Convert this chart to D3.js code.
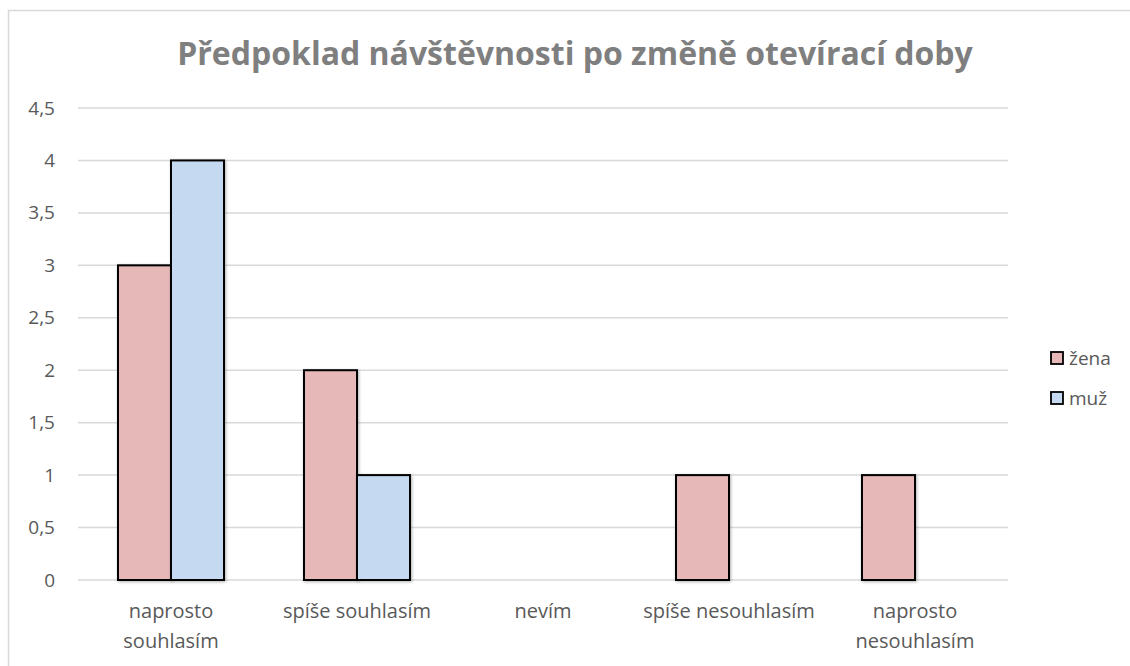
<!DOCTYPE html>
<html>
<head>
    <script src="https://cdnjs.cloudflare.com/ajax/libs/d3/7.8.5/d3.min.js"></script>
    <style>
        body { margin: 0; background: #fff; }
        .tick text { font-family: "Open Sans"; font-size: 19px; fill: #595959; }
        .grid line { stroke: #d9d9d9; stroke-width: 1.5; }
        .title { font-family: "Open Sans"; font-weight: bold; font-size: 32px; fill: #7f7f7f; }
        .legend text { font-family: "Open Sans"; font-size: 19px; fill: #595959; }
    </style>
</head>
<body>
    <svg width="1130" height="666"></svg>
    <script>
        // Data
        const categories = ["naprosto souhlasím", "spíše souhlasím", "nevím", "spíše nesouhlasím", "naprosto nesouhlasím"];
        const categoryLines = [["naprosto", "souhlasím"], ["spíše souhlasím"], ["nevím"], ["spíše nesouhlasím"], ["naprosto", "nesouhlasím"]];
        const seriesNames = ["žena", "muž"];
        const zena = [3, 2, 0, 1, 1];
        const muz = [4, 1, 0, 0, 0];
        const yTicks = [0, 0.5, 1, 1.5, 2, 2.5, 3, 3.5, 4, 4.5];
        const colors = {"žena": "#e6b8b7", "muž": "#c5d9f1"};

        const svg = d3.select("svg");

        // chart border
        svg.append("rect")
            .attr("x", 8.5).attr("y", 10.5)
            .attr("width", 1140).attr("height", 680)
            .attr("fill", "none")
            .attr("stroke", "#d9d9d9")
            .attr("stroke-width", 1.5);

        svg.append("text")
            .attr("class", "title")
            .attr("x", 575)
            .attr("y", 65)
            .attr("text-anchor", "middle")
            .text("Předpoklad návštěvnosti po změně otevírací doby");

        const plot = {left: 78, right: 1008, top: 108, bottom: 580};

        const x = d3.scaleBand()
            .domain(categories)
            .range([plot.left, plot.right])
            .paddingInner(0.43)
            .paddingOuter(0.215);

        const xs = d3.scaleBand()
            .domain(seriesNames)
            .range([0, x.bandwidth()]);

        const y = d3.scaleLinear()
            .domain([0, 4.5])
            .range([plot.bottom, plot.top]);

        // grid
        svg.append("g")
            .attr("class", "grid")
            .selectAll("line")
            .data(yTicks)
            .join("line")
            .attr("x1", plot.left)
            .attr("x2", plot.right)
            .attr("y1", d => y(d))
            .attr("y2", d => y(d));

        // y axis labels
        const yAxis = svg.append("g")
            .attr("transform", `translate(${plot.left},0)`)
            .call(d3.axisLeft(y).tickValues(yTicks).tickSize(0).tickPadding(23)
                .tickFormat(d => String(d).replace(".", ",")));
        yAxis.select(".domain").remove();

        // x axis labels
        const xAxis = svg.append("g")
            .attr("transform", `translate(0,${plot.bottom})`)
            .call(d3.axisBottom(x).tickSize(0).tickFormat(""));
        xAxis.select(".domain").remove();
        xAxis.selectAll(".tick").each(function(d, i) {
            const t = d3.select(this).append("text")
                .attr("text-anchor", "middle")
                .attr("fill", "#595959")
                .style("font-family", "Open Sans")
                .style("font-size", "20px");
            categoryLines[i].forEach((line, j) => {
                t.append("tspan")
                    .attr("x", 0)
                    .attr("y", 38 + j * 30)
                    .text(line);
            });
        });

        // shadow filter
        const defs = svg.append("defs");
        const f = defs.append("filter").attr("id", "shadow")
            .attr("x", "-20%").attr("y", "-20%").attr("width", "140%").attr("height", "140%");
        f.append("feDropShadow")
            .attr("dx", 1).attr("dy", 1).attr("stdDeviation", 1.5)
            .attr("flood-color", "#000").attr("flood-opacity", 0.3);

        const rows = [];
        categories.forEach((c, i) => {
            rows.push({cat: c, series: "žena", value: zena[i]});
            rows.push({cat: c, series: "muž", value: muz[i]});
        });

        svg.append("g")
            .selectAll("rect")
            .data(rows.filter(d => d.value > 0))
            .join("rect")
            .attr("x", d => x(d.cat) + xs(d.series))
            .attr("y", d => y(d.value))
            .attr("width", xs.bandwidth())
            .attr("height", d => y(0) - y(d.value))
            .attr("fill", d => colors[d.series])
            .attr("stroke", "#000")
            .attr("stroke-width", 2)
            .attr("filter", "url(#shadow)");

        // legend
        const legend = svg.append("g").attr("class", "legend")
            .attr("transform", "translate(1051,352)");
        const items = legend.selectAll("g")
            .data(seriesNames)
            .join("g")
            .attr("transform", (d, i) => `translate(0,${i * 40})`);
        items.append("rect")
            .attr("width", 12).attr("height", 12)
            .attr("fill", d => colors[d])
            .attr("stroke", "#000")
            .attr("stroke-width", 1.8);
        items.append("text")
            .attr("x", 18)
            .attr("y", 13)
            .text(d => d);
    </script>
</body>
</html>
